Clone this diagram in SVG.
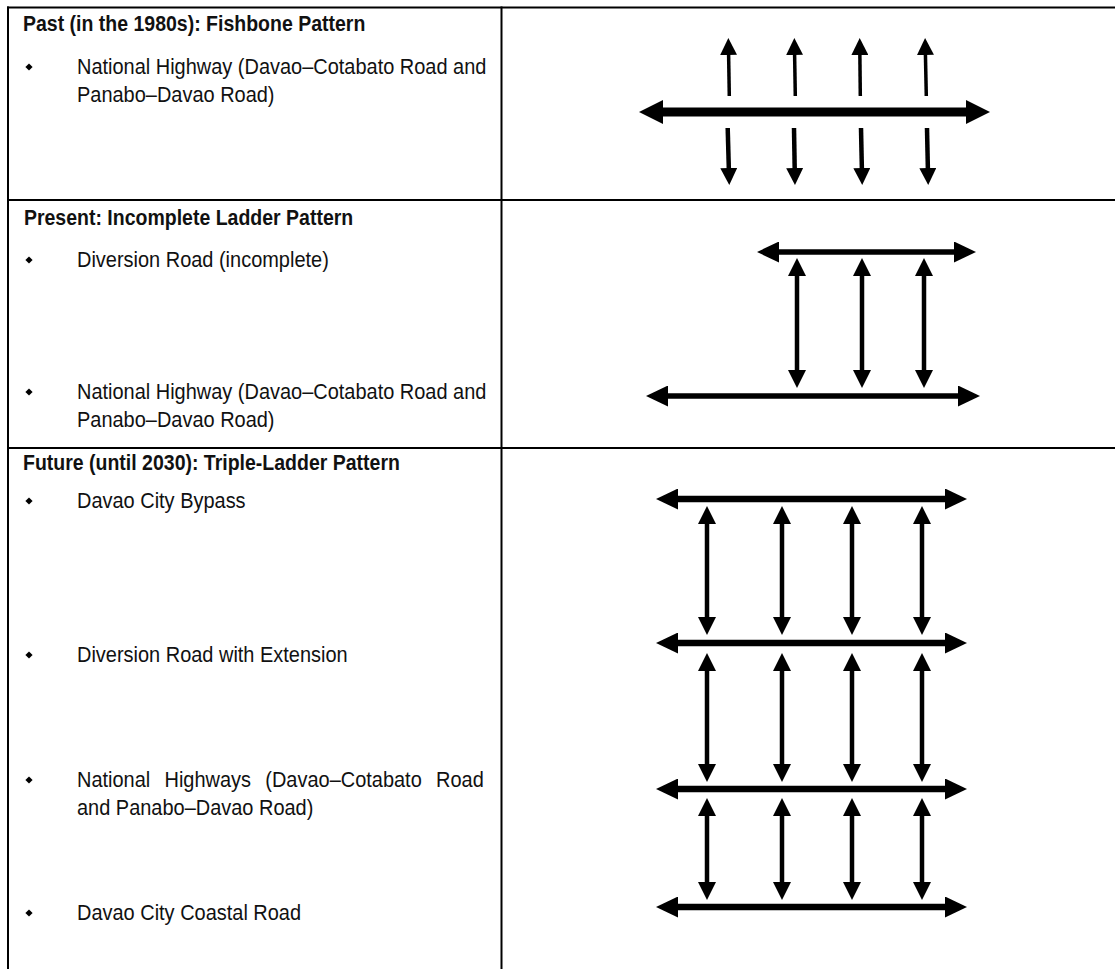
<svg xmlns="http://www.w3.org/2000/svg" width="1115" height="969" viewBox="0 0 1115 969">
<style>
  .grid { stroke: #000; stroke-width: 2; fill: none; }
  .title { font-family: "Liberation Sans", Arial, sans-serif; font-weight: bold; font-size: 21.2px; fill: #111; }
  .body { font-family: "Liberation Sans", Arial, sans-serif; font-size: 21.7px; fill: #111; }
  .bullet { fill: #000; }
  .road { stroke: #000; fill: none; }
</style>
<defs>
  <marker id="ahFh" markerUnits="userSpaceOnUse" viewBox="0 0 24 24" markerWidth="24" markerHeight="24" refX="10" refY="12" orient="auto-start-reverse">
    <path d="M0,0 L24,12 L0,24 Z" fill="#000"/>
  </marker>
  <marker id="ahFv" markerUnits="userSpaceOnUse" viewBox="0 0 17 17" markerWidth="17" markerHeight="17" refX="7" refY="8.5" orient="auto-start-reverse">
    <path d="M0,0 L17,8.5 L0,17 Z" fill="#000"/>
  </marker>
  <marker id="ahH" markerUnits="userSpaceOnUse" viewBox="0 0 22 21" markerWidth="22" markerHeight="21" refX="10" refY="10.5" orient="auto-start-reverse">
    <path d="M0,0 L22,10.5 L0,21 Z" fill="#000"/>
  </marker>
  <marker id="ahV" markerUnits="userSpaceOnUse" viewBox="0 0 18 18" markerWidth="18" markerHeight="18" refX="8" refY="9" orient="auto-start-reverse">
    <path d="M0,0 L18,9 L0,18 Z" fill="#000"/>
  </marker>
  <path id="dia" d="M0,-3.6 L3.6,0 L0,3.6 L-3.6,0 Z"/>
</defs>

<g id="table-grid">
  <line class="grid" x1="7" y1="7.5" x2="1115" y2="7.5"/>
  <line class="grid" x1="7" y1="200" x2="1115" y2="200"/>
  <line class="grid" x1="7" y1="448" x2="1115" y2="448"/>
  <line class="grid" x1="8" y1="6.5" x2="8" y2="969"/>
  <line class="grid" x1="501.5" y1="6.5" x2="501.5" y2="969"/>
</g>

<g id="row-past">
  <use href="#dia" class="bullet" x="29" y="67"/>
  <g transform="scale(0.92 1)">
    <text class="title" x="25" y="31">Past (in the 1980s): Fishbone Pattern</text>
    <text class="body" x="83.7" y="74">National Highway (Davao–Cotabato Road and</text>
    <text class="body" x="83.7" y="102">Panabo–Davao Road)</text>
  </g>
</g>

<g id="row-present">
  <use href="#dia" class="bullet" x="29" y="260"/>
  <use href="#dia" class="bullet" x="29" y="392"/>
  <g transform="scale(0.92 1)">
    <text class="title" x="26" y="225">Present: Incomplete Ladder Pattern</text>
    <text class="body" x="83.7" y="267">Diversion Road (incomplete)</text>
    <text class="body" x="83.7" y="399">National Highway (Davao–Cotabato Road and</text>
    <text class="body" x="83.7" y="427">Panabo–Davao Road)</text>
  </g>
</g>

<g id="row-future">
  <use href="#dia" class="bullet" x="29" y="501"/>
  <use href="#dia" class="bullet" x="29" y="655"/>
  <use href="#dia" class="bullet" x="29" y="780"/>
  <use href="#dia" class="bullet" x="29" y="913"/>
  <g transform="scale(0.92 1)">
    <text class="title" x="25" y="470">Future (until 2030): Triple-Ladder Pattern</text>
    <text class="body" x="83.7" y="508">Davao City Bypass</text>
    <text class="body" x="83.7" y="662">Diversion Road with Extension</text>
    <text class="body" x="83.7" y="787" word-spacing="9.5">National Highways (Davao–Cotabato Road</text>
    <text class="body" x="83.7" y="815">and Panabo–Davao Road)</text>
    <text class="body" x="83.7" y="920">Davao City Coastal Road</text>
  </g>
</g>

<g id="connectors">
  <!-- Fishbone -->
  <line class="road" x1="653" y1="112" x2="976" y2="112" stroke-width="9" marker-start="url(#ahFh)" marker-end="url(#ahFh)"/>
  <g stroke-width="3.5">
    <line class="road" x1="729.3" y1="96" x2="728.5" y2="48" marker-end="url(#ahFv)"/>
    <line class="road" x1="795.3" y1="96" x2="794.5" y2="48" marker-end="url(#ahFv)"/>
    <line class="road" x1="860.3" y1="96" x2="859.8" y2="48" marker-end="url(#ahFv)"/>
    <line class="road" x1="926.3" y1="96" x2="925.3" y2="48" marker-end="url(#ahFv)"/>
  </g>
  <g stroke-width="4.5">
    <line class="road" x1="727.7" y1="128" x2="729" y2="175" marker-end="url(#ahFv)"/>
    <line class="road" x1="794" y1="128" x2="794.8" y2="175" marker-end="url(#ahFv)"/>
    <line class="road" x1="861" y1="128" x2="862" y2="175" marker-end="url(#ahFv)"/>
    <line class="road" x1="927" y1="128" x2="928" y2="175" marker-end="url(#ahFv)"/>
  </g>

  <!-- Incomplete ladder -->
  <g stroke-width="5.5">
    <line class="road" x1="769" y1="252" x2="964" y2="252" marker-start="url(#ahH)" marker-end="url(#ahH)"/>
    <line class="road" x1="658" y1="396" x2="968" y2="396" marker-start="url(#ahH)" marker-end="url(#ahH)"/>
  </g>
  <g stroke-width="4.5">
    <line class="road" x1="797" y1="268" x2="797" y2="378" marker-start="url(#ahV)" marker-end="url(#ahV)"/>
    <line class="road" x1="862" y1="268" x2="862" y2="378" marker-start="url(#ahV)" marker-end="url(#ahV)"/>
    <line class="road" x1="924" y1="268" x2="924" y2="378" marker-start="url(#ahV)" marker-end="url(#ahV)"/>
  </g>

  <!-- Triple ladder -->
  <g stroke-width="6.5">
    <line class="road" x1="668" y1="499" x2="955" y2="499" marker-start="url(#ahH)" marker-end="url(#ahH)"/>
    <line class="road" x1="668" y1="643" x2="955" y2="643" marker-start="url(#ahH)" marker-end="url(#ahH)"/>
    <line class="road" x1="668" y1="789" x2="955" y2="789" marker-start="url(#ahH)" marker-end="url(#ahH)"/>
    <line class="road" x1="668" y1="907" x2="955" y2="907" marker-start="url(#ahH)" marker-end="url(#ahH)"/>
  </g>
  <g stroke-width="4.5">
    <line class="road" x1="707" y1="516" x2="707" y2="625" marker-start="url(#ahV)" marker-end="url(#ahV)"/>
    <line class="road" x1="782" y1="516" x2="782" y2="625" marker-start="url(#ahV)" marker-end="url(#ahV)"/>
    <line class="road" x1="852" y1="516" x2="852" y2="625" marker-start="url(#ahV)" marker-end="url(#ahV)"/>
    <line class="road" x1="922" y1="516" x2="922" y2="625" marker-start="url(#ahV)" marker-end="url(#ahV)"/>
    <line class="road" x1="707" y1="663" x2="707" y2="772" marker-start="url(#ahV)" marker-end="url(#ahV)"/>
    <line class="road" x1="782" y1="663" x2="782" y2="772" marker-start="url(#ahV)" marker-end="url(#ahV)"/>
    <line class="road" x1="852" y1="663" x2="852" y2="772" marker-start="url(#ahV)" marker-end="url(#ahV)"/>
    <line class="road" x1="922" y1="663" x2="922" y2="772" marker-start="url(#ahV)" marker-end="url(#ahV)"/>
    <line class="road" x1="707" y1="808" x2="707" y2="890" marker-start="url(#ahV)" marker-end="url(#ahV)"/>
    <line class="road" x1="782" y1="808" x2="782" y2="890" marker-start="url(#ahV)" marker-end="url(#ahV)"/>
    <line class="road" x1="852" y1="808" x2="852" y2="890" marker-start="url(#ahV)" marker-end="url(#ahV)"/>
    <line class="road" x1="922" y1="808" x2="922" y2="890" marker-start="url(#ahV)" marker-end="url(#ahV)"/>
  </g>
</g>
</svg>
